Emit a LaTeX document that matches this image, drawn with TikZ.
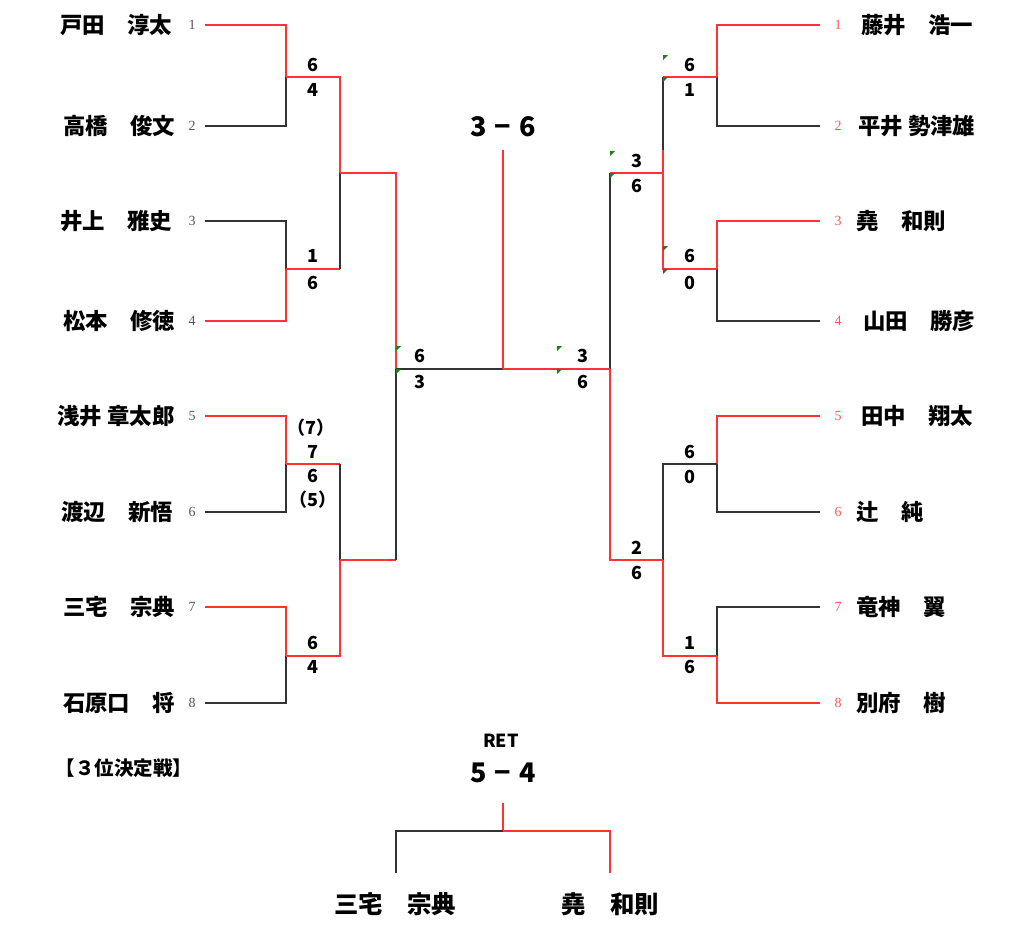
\documentclass[tikz,border=0pt]{standalone}
\usepackage{fontspec}
\usepackage{xcolor}
\usepackage{tikz}
\setmainfont{Noto Sans CJK JP}
\newfontfamily\seedfont{Liberation Serif}
\definecolor{win_red}{RGB}{255, 51, 51}
\definecolor{lose_gray}{RGB}{51, 51, 51}
\definecolor{seed_gray}{RGB}{85, 85, 85}
\definecolor{seed_red}{RGB}{255, 85, 85}
\definecolor{mark_green}{RGB}{25, 130, 25}

\begin{document}
\begin{tikzpicture}[x=1pt, y=-1pt,
    win/.style={draw=win_red, line width=1.4pt},
    lose/.style={draw=lose_gray, line width=1.4pt},
    player/.style={font=\fontsize{22.4}{22.4}\selectfont\bfseries, inner sep=0pt},
    seedL/.style={font=\seedfont\fontsize{14}{14}\selectfont, text=seed_gray, inner sep=0pt},
    seedR/.style={font=\seedfont\fontsize{14}{14}\selectfont, text=seed_red, inner sep=0pt},
    score/.style={font=\fontsize{18}{18}\selectfont\bfseries, inner sep=0pt},
    flag/.style={fill=mark_green}]
    \useasboundingbox (0,0) rectangle (1024,937);

    % Left players
    \node[player] (nL1) at (116,25) {戸田　淳太};
    \node[player] (nL2) at (119,126) {高橋　俊文};
    \node[player] (nL3) at (116,221) {井上　雅史};
    \node[player] (nL4) at (119,321) {松本　修徳};
    \node[player] (nL5) at (116,416) {浅井 章太郎};
    \node[player] (nL6) at (117,512) {渡辺　新悟};
    \node[player] (nL7) at (119,607) {三宅　宗典};
    \node[player] (nL8) at (119,703) {石原口　将};
    \node[seedL] (sL1) at (192,25) {1};
    \node[seedL] (sL2) at (192,126) {2};
    \node[seedL] (sL3) at (192,221) {3};
    \node[seedL] (sL4) at (192,321) {4};
    \node[seedL] (sL5) at (192,416) {5};
    \node[seedL] (sL6) at (192,512) {6};
    \node[seedL] (sL7) at (192,607) {7};
    \node[seedL] (sL8) at (192,703) {8};

    % Right players
    \node[player, anchor=west] (nR1) at (861,25) {藤井　浩一};
    \node[player, anchor=west] (nR2) at (858,126) {平井 勢津雄};
    \node[player, anchor=west] (nR3) at (856,221) {堯　和則};
    \node[player, anchor=west] (nR4) at (863,321) {山田　勝彦};
    \node[player, anchor=west] (nR5) at (861,416) {田中　翔太};
    \node[player, anchor=west] (nR6) at (856,512) {辻　純};
    \node[player, anchor=west] (nR7) at (856,607) {竜神　翼};
    \node[player, anchor=west] (nR8) at (856,703) {別府　樹};
    \node[seedR] (sR1) at (838,25) {1};
    \node[seedR] (sR2) at (838,126) {2};
    \node[seedR] (sR3) at (838,221) {3};
    \node[seedR] (sR4) at (838,321) {4};
    \node[seedR] (sR5) at (838,416) {5};
    \node[seedR] (sR6) at (838,512) {6};
    \node[seedR] (sR7) at (838,607) {7};
    \node[seedR] (sR8) at (838,703) {8};

    % Bracket points
    \coordinate (L1) at (205,25);  \coordinate (L2) at (205,126);
    \coordinate (L3) at (205,221); \coordinate (L4) at (205,321);
    \coordinate (L5) at (205,416); \coordinate (L6) at (205,512);
    \coordinate (L7) at (205,607); \coordinate (L8) at (205,703);
    \coordinate (La1) at (286,77);  \coordinate (La2) at (286,269);
    \coordinate (La3) at (286,464); \coordinate (La4) at (286,656);
    \coordinate (Lb1) at (340,173); \coordinate (Lb2) at (340,560);
    \coordinate (Lc) at (396,369);
    \coordinate (R1) at (820,25);  \coordinate (R2) at (820,126);
    \coordinate (R3) at (820,221); \coordinate (R4) at (820,321);
    \coordinate (R5) at (820,416); \coordinate (R6) at (820,512);
    \coordinate (R7) at (820,607); \coordinate (R8) at (820,703);
    \coordinate (Ra1) at (717,77);  \coordinate (Ra2) at (717,269);
    \coordinate (Ra3) at (717,464); \coordinate (Ra4) at (717,656);
    \coordinate (Rb1) at (663,173); \coordinate (Rb2) at (663,560);
    \coordinate (Rk) at (663,150);
    \coordinate (Rc) at (610,369);
    \coordinate (F) at (503,369);
    \coordinate (Ftop) at (503,150);

    % Left bracket
    \draw[win] (L1) -| (La1);
    \draw[lose] (L2) -| (La1);
    \draw[lose] (L3) -| (La2);
    \draw[win] (L4) -| (La2);
    \draw[win] (L5) -| (La3);
    \draw[lose] (L6) -| (La3);
    \draw[win] (L7) -| (La4);
    \draw[lose] (L8) -| (La4);
    \draw[win] (La1) -| (Lb1);
    \draw[win] (La2) -- (La2 -| Lb1);
    \draw[lose] (La2 -| Lb1) -- (Lb1);
    \draw[win] (La3) -- (La3 -| Lb2);
    \draw[lose] (La3 -| Lb2) -- (Lb2);
    \draw[win] (La4) -| (Lb2);
    \draw[win] (Lb1) -| (Lc);
    \draw[win] (Lb2) -- (Lb2 -| Lc);
    \draw[lose] (Lb2 -| Lc) -- (Lc);

    % Right bracket
    \draw[win] (R1) -| (Ra1);
    \draw[lose] (R2) -| (Ra1);
    \draw[win] (R3) -| (Ra2);
    \draw[lose] (R4) -| (Ra2);
    \draw[win] (R5) -| (Ra3);
    \draw[lose] (R6) -| (Ra3);
    \draw[lose] (R7) -| (Ra4);
    \draw[win] (R8) -| (Ra4);
    \draw[win] (Ra1) -- (Ra1 -| Rb1);
    \draw[lose] (Ra1 -| Rb1) -- (Rk);
    \draw[win] (Rk) -- (Rb1);
    \draw[win] (Ra2) -| (Rb1);
    \draw[lose] (Ra3) -| (Rb2);
    \draw[win] (Ra4) -| (Rb2);
    \draw[win] (Rb1) -- (Rb1 -| Rc);
    \draw[lose] (Rb1 -| Rc) -- (Rc);
    \draw[win] (Rb2) -| (Rc);

    % Final
    \draw[lose] (Lc) -- (F);
    \draw[win] (Rc) -- (F);
    \draw[win] (F) -- (Ftop);
    \node[font=\fontsize{27}{27}\selectfont\bfseries, inner sep=0pt] (final) at (503,127) {3\hspace{0.3em}−\hspace{0.3em}6};

    % Scores
    \node[score] (m1a) at (313,65) {6};  \node[score] (m1b) at (313,90) {4};
    \node[score] (m2a) at (313,256) {1}; \node[score] (m2b) at (313,283) {6};
    \node[score] (m3x) at (311,428) {（7）};
    \node[score] (m3a) at (313,452) {7}; \node[score] (m3b) at (313,476) {6};
    \node[score] (m3y) at (313,500) {（5）};
    \node[score] (m4a) at (313,643) {6}; \node[score] (m4b) at (313,667) {4};
    \node[score] (sfLa) at (420,356) {6}; \node[score] (sfLb) at (420,382) {3};
    \node[score] (fa) at (583,356) {3}; \node[score] (fb) at (583,382) {6};
    \node[score] (m5a) at (690,65) {6};  \node[score] (m5b) at (690,90) {1};
    \node[score] (m6a) at (690,256) {6}; \node[score] (m6b) at (690,283) {0};
    \node[score] (qfRa) at (637,161) {3}; \node[score] (qfRb) at (637,186) {6};
    \node[score] (m7a) at (690,452) {6}; \node[score] (m7b) at (690,477) {0};
    \node[score] (m8a) at (690,643) {1}; \node[score] (m8b) at (690,667) {6};
    \node[score] (qfRc) at (637,548) {2}; \node[score] (qfRd) at (637,573) {6};

    % Comment marks
    \foreach \mx/\my in {663/55, 663/77, 610/151, 610/173, 663/246, 663/269,
                         396/346, 396/369, 557/346, 557/369}
        \fill[flag] (\mx,\my) -- ++(5,0) -- ++(-5,5) -- cycle;

    % Third place
    \node[font=\fontsize{19.5}{19.5}\selectfont\bfseries, inner sep=0pt] (third) at (124,768) {【３位決定戦】};
    \node[font=\fontsize{18}{18}\selectfont\bfseries, inner sep=0pt] (ret) at (501,741) {RET};
    \node[font=\fontsize{27}{27}\selectfont\bfseries, inner sep=0pt] (thirdscore) at (503,773) {5\hspace{0.3em}−\hspace{0.3em}4};
    \coordinate (T) at (503,803);
    \coordinate (Tm) at (503,831);
    \coordinate (TL) at (396,873);
    \coordinate (TR) at (610,873);
    \draw[win] (T) -- (Tm);
    \draw[lose] (Tm) -| (TL);
    \draw[win] (Tm) -| (TR);
    \node[player, font=\fontsize{24.4}{24.4}\selectfont\bfseries] (tL) at (395,904) {三宅　宗典};
    \node[player, font=\fontsize{24.4}{24.4}\selectfont\bfseries] (tR) at (610,904) {堯　和則};
\end{tikzpicture}
\end{document}
